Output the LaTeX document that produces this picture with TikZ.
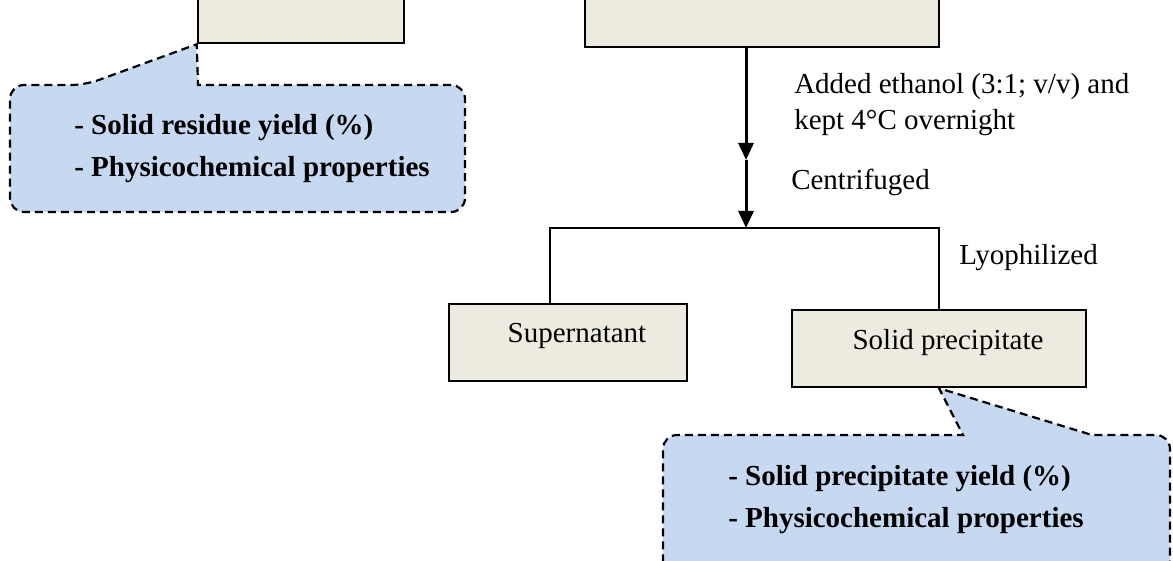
\documentclass[tikz,border=0pt]{standalone}
\usepackage{fontspec}
\setmainfont{Liberation Serif}
\usepackage{tikz}
\usetikzlibrary{arrows.meta}

\definecolor{boxfill}{RGB}{237,235,224}
\definecolor{notefill}{RGB}{198,217,241}

\tikzset{
  stagebox/.style={draw, line width=2.5pt, fill=boxfill, inner sep=0pt,
    font=\fontsize{29}{36}\selectfont, text height=15pt, text depth=14pt},
  notebox/.style={draw, line width=2.2pt, dash pattern=on 8pt off 5pt, fill=notefill},
  notetext/.style={font=\bfseries\fontsize{29}{42}\selectfont, align=left,
    inner sep=0pt, anchor=north west},
  steplabel/.style={font=\fontsize{29}{36}\selectfont, align=left, inner sep=0pt},
  flow/.style={line width=3pt}
}

\begin{document}
\begin{tikzpicture}[x=1pt, y=-1pt, line width=2.5pt, >={Triangle[length=17pt,width=15pt]}]
    \useasboundingbox (0,0) rectangle (1173,561);
    \clip (0,0) rectangle (1173,561);

    \node[stagebox, minimum width=206pt, minimum height=86pt] (residue) at (301,0) {};
    \node[stagebox, minimum width=354pt, minimum height=94pt] (extract) at (762,0) {};
    \node[stagebox, minimum width=238pt, minimum height=77pt] (super) at (568,342.5) {\hspace*{18pt}Supernatant};
    \node[stagebox, minimum width=294pt, minimum height=77pt] (precip) at (939,348.5) {\hspace*{18pt}Solid precipitate};

    \coordinate (mid) at (746,160);
    \coordinate (split) at (746,228);
    \coordinate (lft) at (550,228);

    \node[steplabel, anchor=north west] (ethanol) at (793,72) {Added ethanol (3:1; v/v) and\\kept 4°C overnight};
    \node[steplabel, anchor=base west] (centri) at (790,190) {Centrifuged};
    \node[steplabel, anchor=base west] (lyo) at (958,265) {Lyophilized};

    \draw[flow, ->] (extract.south -| mid) -- (mid);
    \draw[flow, ->] (mid) -- (split);
    \draw (super.north -| lft) |- (split) -| (precip.north);

    % callouts
    \draw[notebox] (300,85) [rounded corners=14pt] -- (465,85) -- (465,212) -- (10,212) -- (10,85) -- (85,85)
        [sharp corners] -- (residue.south west) -- (198,85) -- cycle;
    \draw[notebox] (800,435) -- (963,435) -- (precip.south) -- (1092,435)
        [rounded corners=14pt] -- (1170,435) -- (1170,600) -- (663,600) -- (663,435) -- cycle;

    \node[notetext] (note1) at (73,113) {- Solid residue yield (\%)\\- Physicochemical properties};
    \node[notetext] (note2) at (727,464) {- Solid precipitate yield (\%)\\- Physicochemical properties};
\end{tikzpicture}
\end{document}
